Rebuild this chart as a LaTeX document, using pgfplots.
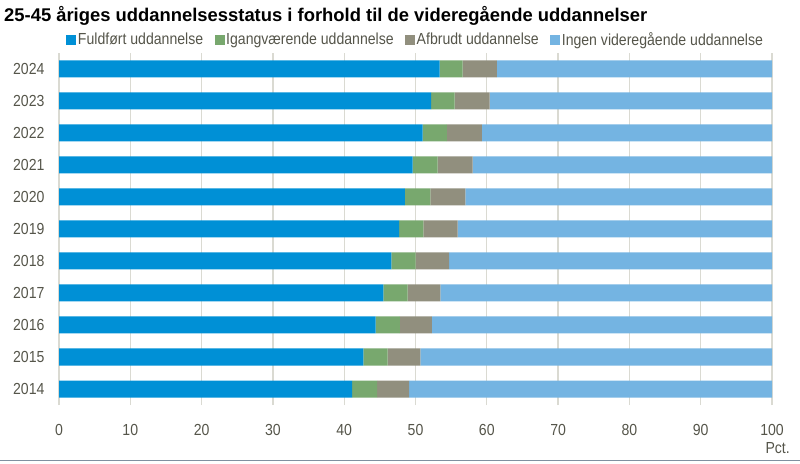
\documentclass[border=0pt]{standalone}
\usepackage{fontspec}
\setmainfont{Liberation Sans}
\newfontfamily\narrowfont[FakeStretch=0.88]{Liberation Sans}
\usepackage{pgfplots}
\pgfplotsset{compat=1.18}
\definecolor{cA}{HTML}{0090D6}
\definecolor{cB}{HTML}{78A86E}
\definecolor{cC}{HTML}{918F7E}
\definecolor{cD}{HTML}{74B4E2}
\definecolor{gridC}{HTML}{DADAD2}
\definecolor{textC}{HTML}{55554A}
\definecolor{lineC}{HTML}{8090A0}
\begin{document}
\begin{tikzpicture}[x=1pt,y=1pt]
\path[use as bounding box] (0,0) rectangle (800,463);
\draw[color=lineC, line width=1pt] (0,3) -- (800,3);
\node[anchor=base west, inner sep=0pt, font=\bfseries\fontsize{18.4}{22}\selectfont] at (4,441) {25-45 åriges uddannelsesstatus i forhold til de videregående uddannelser};
\node[anchor=base east, inner sep=0pt, text=textC, font=\narrowfont\fontsize{16}{19}\selectfont] at (790,10) {Pct.};
\begin{axis}[
  at={(59pt,58pt)}, anchor=south west, scale only axis,
  width=713pt, height=352pt,
  xbar stacked, bar width=17pt,
  xmin=0, xmax=100, ymin=2013.5, ymax=2024.5,
  xtick={0,10,...,100}, ytick={2014,...,2024},
  /pgf/number format/assume math mode=true,
  /pgf/number format/1000 sep={},
  axis line style={draw=none}, major tick length=0pt,
  xmajorgrids, grid style={color=gridC, line width=1.3pt},
  tick label style={font=\narrowfont\fontsize{16}{19}\selectfont, text=textC},
  xticklabel style={yshift=-16pt},
  yticklabel style={xshift=-11pt},
  legend columns=4,
  legend style={draw=none, fill=none, at={(0.5,1)}, anchor=south, yshift=2pt,
    font=\narrowfont\fontsize{16}{19}\selectfont, text=textC,
    nodes={inner xsep=1.5pt},
    /tikz/every even column/.append style={column sep=10pt}},
  legend image code/.code={\fill[#1] (0pt,-5pt) rectangle (10pt,5pt);},
]
\addplot[fill=cA, draw=none] coordinates {
(41.1,2014) (42.7,2015) (44.4,2016) (45.5,2017) (46.6,2018) (47.7,2019) (48.5,2020) (49.6,2021) (51.0,2022) (52.2,2023) (53.4,2024)};
\addplot[fill=cB, draw=none] coordinates {
(3.5,2014) (3.4,2015) (3.4,2016) (3.4,2017) (3.4,2018) (3.4,2019) (3.6,2020) (3.5,2021) (3.4,2022) (3.3,2023) (3.2,2024)};
\addplot[fill=cC, draw=none] coordinates {
(4.5,2014) (4.6,2015) (4.5,2016) (4.6,2017) (4.7,2018) (4.8,2019) (4.9,2020) (4.9,2021) (4.9,2022) (4.9,2023) (4.8,2024)};
\addplot[fill=cD, draw=none] coordinates {
(50.9,2014) (49.3,2015) (47.7,2016) (46.5,2017) (45.3,2018) (44.1,2019) (43.0,2020) (42.0,2021) (40.7,2022) (39.6,2023) (38.6,2024)};
\legend{Fuldført uddannelse, Igangværende uddannelse, Afbrudt uddannelse, Ingen videregående uddannelse}
\end{axis}
\end{tikzpicture}
\end{document}
